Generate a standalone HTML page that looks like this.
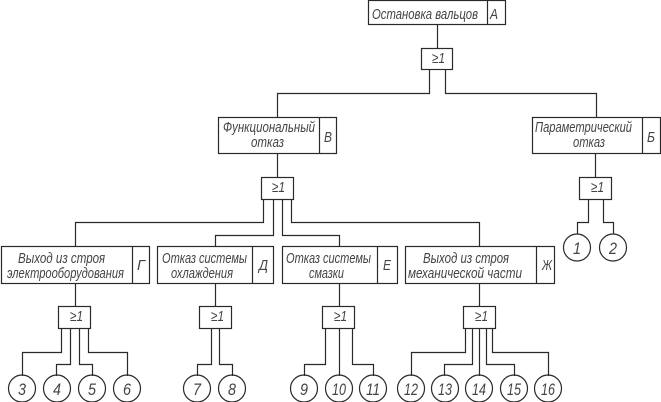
<!DOCTYPE html>
<html><head><meta charset="utf-8">
<style>
html,body{margin:0;padding:0;background:#fff;width:661px;height:402px;overflow:hidden}
svg{display:block}
.l{fill:none;stroke:#2a2a2a;stroke-width:1.2}
text{font-family:"Liberation Sans",sans-serif;font-style:italic;font-size:15px;fill:#444;font-weight:normal}
.n text{font-size:17px}
</style></head><body>
<svg width="661" height="402" viewBox="0 0 661 402" xmlns="http://www.w3.org/2000/svg">
<g class="l">
<!-- boxes -->
<rect x="368.5" y="0.5" width="137" height="24"/><path d="M487.5 0.5V24.5"/>
<rect x="218.5" y="117.5" width="118" height="36"/><path d="M319.5 117.5V153.5"/>
<rect x="532.5" y="117.5" width="128" height="36"/><path d="M642.5 117.5V153.5"/>
<rect x="1.5" y="246.5" width="148" height="37"/><path d="M132.5 246.5V283.5"/>
<rect x="157.5" y="246.5" width="116" height="37"/><path d="M252.5 246.5V283.5"/>
<rect x="282.5" y="246.5" width="115" height="37"/><path d="M377.5 246.5V283.5"/>
<rect x="405.5" y="246.5" width="149" height="37"/><path d="M536.5 246.5V283.5"/>
<!-- OR gates -->
<rect x="421.5" y="48.5" width="31" height="21"/>
<rect x="261.5" y="177.5" width="32" height="22"/>
<rect x="579.5" y="177.5" width="32" height="22"/>
<rect x="58.5" y="306.5" width="32" height="22"/>
<rect x="199.5" y="306.5" width="32" height="22"/>
<rect x="322.5" y="306.5" width="32" height="22"/>
<rect x="463.5" y="306.5" width="32" height="22"/>
<!-- connectors -->
<path d="M437.5 24.5V48.5"/>
<path d="M429.5 69.5V93.5H277.5V117.5"/>
<path d="M445.5 69.5V93.5H596.5V117.5"/>
<path d="M277.5 153.5V177.5"/>
<path d="M595.5 153.5V177.5"/>
<path d="M263.5 199.5V222.5H75.5V246.5"/>
<path d="M273.5 199.5V235.5H215.5V246.5"/>
<path d="M282.5 199.5V235.5H339.5V246.5"/>
<path d="M291.5 199.5V222.5H479.5V246.5"/>
<path d="M588.5 199.5V222.5H577.5V234.5"/>
<path d="M603.5 199.5V222.5H613.5V234.5"/>
<path d="M75.5 283.5V306.5"/>
<path d="M215.5 283.5V306.5"/>
<path d="M339.5 283.5V306.5"/>
<path d="M479.5 283.5V306.5"/>
<path d="M61.5 328.5V352.5H22.5V376"/>
<path d="M70.5 328.5V364.5H56.5V376"/>
<path d="M79.5 328.5V364.5H92.5V376"/>
<path d="M88.5 328.5V352.5H127.5V376"/>
<path d="M211.5 328.5V364.5H197.5V376"/>
<path d="M219.5 328.5V364.5H232.5V376"/>
<path d="M325.5 328.5V364.5H304.5V376"/>
<path d="M339.5 328.5V376"/>
<path d="M352.5 328.5V364.5H373.5V376"/>
<path d="M465.5 328.5V352.5H411.5V376"/>
<path d="M472.5 328.5V364.5H444.5V376"/>
<path d="M479.5 328.5V376"/>
<path d="M486.5 328.5V364.5H514.5V376"/>
<path d="M492.5 328.5V352.5H548.5V376"/>
<!-- circles -->
<circle cx="22" cy="388.5" r="13.5"/><circle cx="57" cy="388.5" r="13.5"/><circle cx="92" cy="388.5" r="13.5"/><circle cx="127" cy="388.5" r="13.5"/>
<circle cx="197" cy="388.5" r="13.5"/><circle cx="232" cy="388.5" r="13.5"/>
<circle cx="304" cy="388.5" r="13.5"/><circle cx="339" cy="388.5" r="13.5"/><circle cx="373" cy="388.5" r="13.5"/>
<circle cx="411" cy="388.5" r="13.5"/><circle cx="445" cy="388.5" r="13.5"/><circle cx="479" cy="388.5" r="13.5"/><circle cx="514" cy="388.5" r="13.5"/><circle cx="548" cy="388.5" r="13.5"/>
<circle cx="577" cy="247.5" r="13.5"/><circle cx="613" cy="247.5" r="13.5"/>
</g>
<!-- box labels -->
<text x="372" y="19" textLength="106" lengthAdjust="spacingAndGlyphs">Остановка вальцов</text>
<text x="490" y="19" textLength="8" lengthAdjust="spacingAndGlyphs">А</text>
<text x="223" y="132" textLength="92" lengthAdjust="spacingAndGlyphs">Функциональный</text>
<text x="251" y="147" textLength="33" lengthAdjust="spacingAndGlyphs">отказ</text>
<text x="324" y="142" textLength="8" lengthAdjust="spacingAndGlyphs">В</text>
<text x="535" y="132" textLength="97" lengthAdjust="spacingAndGlyphs">Параметрический</text>
<text x="573" y="147" textLength="32" lengthAdjust="spacingAndGlyphs">отказ</text>
<text x="647" y="142" textLength="8" lengthAdjust="spacingAndGlyphs">Б</text>
<text x="18" y="263" textLength="87" lengthAdjust="spacingAndGlyphs">Выход из строя</text>
<text x="7" y="278" textLength="117" lengthAdjust="spacingAndGlyphs">электрооборудования</text>
<text x="137" y="270" textLength="8" lengthAdjust="spacingAndGlyphs">Г</text>
<text x="162" y="263" textLength="85" lengthAdjust="spacingAndGlyphs">Отказ системы</text>
<text x="171" y="278" textLength="62" lengthAdjust="spacingAndGlyphs">охлаждения</text>
<text x="259" y="270" textLength="9" lengthAdjust="spacingAndGlyphs">Д</text>
<text x="286" y="263" textLength="85" lengthAdjust="spacingAndGlyphs">Отказ системы</text>
<text x="309" y="278" textLength="35" lengthAdjust="spacingAndGlyphs">смазки</text>
<text x="383" y="270" textLength="8" lengthAdjust="spacingAndGlyphs">Е</text>
<text x="423" y="263" textLength="86" lengthAdjust="spacingAndGlyphs">Выход из строя</text>
<text x="408" y="278" textLength="114" lengthAdjust="spacingAndGlyphs">механической части</text>
<text x="542" y="270" textLength="10" lengthAdjust="spacingAndGlyphs">Ж</text>
<!-- gate labels -->
<text x="432" y="63" textLength="13" lengthAdjust="spacingAndGlyphs">≥1</text>
<text x="272" y="192" textLength="13" lengthAdjust="spacingAndGlyphs">≥1</text>
<text x="591" y="192" textLength="13" lengthAdjust="spacingAndGlyphs">≥1</text>
<text x="70" y="321" textLength="13" lengthAdjust="spacingAndGlyphs">≥1</text>
<text x="211" y="321" textLength="13" lengthAdjust="spacingAndGlyphs">≥1</text>
<text x="334" y="321" textLength="13" lengthAdjust="spacingAndGlyphs">≥1</text>
<text x="475" y="321" textLength="13" lengthAdjust="spacingAndGlyphs">≥1</text>
<!-- circle numbers -->
<g class="n">
<text x="18" y="395" textLength="8" lengthAdjust="spacingAndGlyphs">3</text>
<text x="53" y="395" textLength="8" lengthAdjust="spacingAndGlyphs">4</text>
<text x="88" y="395" textLength="8" lengthAdjust="spacingAndGlyphs">5</text>
<text x="123" y="395" textLength="8" lengthAdjust="spacingAndGlyphs">6</text>
<text x="193" y="395" textLength="8" lengthAdjust="spacingAndGlyphs">7</text>
<text x="228" y="395" textLength="8" lengthAdjust="spacingAndGlyphs">8</text>
<text x="300" y="395" textLength="8" lengthAdjust="spacingAndGlyphs">9</text>
<text x="332" y="395" textLength="14" lengthAdjust="spacingAndGlyphs">10</text>
<text x="366" y="395" textLength="14" lengthAdjust="spacingAndGlyphs">11</text>
<text x="404" y="395" textLength="14" lengthAdjust="spacingAndGlyphs">12</text>
<text x="438" y="395" textLength="14" lengthAdjust="spacingAndGlyphs">13</text>
<text x="472" y="395" textLength="14" lengthAdjust="spacingAndGlyphs">14</text>
<text x="507" y="395" textLength="14" lengthAdjust="spacingAndGlyphs">15</text>
<text x="541" y="395" textLength="14" lengthAdjust="spacingAndGlyphs">16</text>
<text x="573" y="254" textLength="8" lengthAdjust="spacingAndGlyphs">1</text>
<text x="609" y="254" textLength="8" lengthAdjust="spacingAndGlyphs">2</text>
</g>
</svg>
</body></html>
